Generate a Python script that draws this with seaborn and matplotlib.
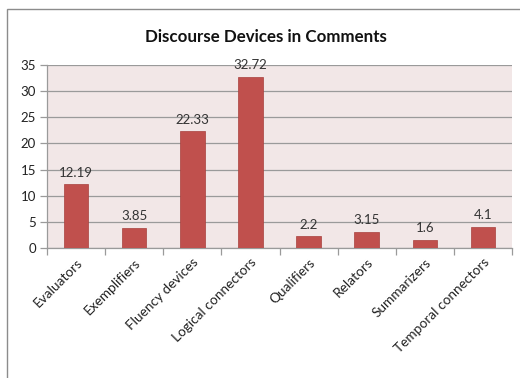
import matplotlib
matplotlib.use("Agg")
import matplotlib.pyplot as plt
import seaborn as sns
import pandas as pd
from matplotlib.patches import Rectangle

categories = ["Evaluators", "Exemplifiers", "Fluency devices", "Logical connectors",
              "Qualifiers", "Relators", "Summarizers", "Temporal connectors"]
values = [12.19, 3.85, 22.33, 32.72, 2.2, 3.15, 1.6, 4.1]
value_labels = ["12.19", "3.85", "22.33", "32.72", "2.2", "3.15", "1.6", "4.1"]
y_ticks = [0, 5, 10, 15, 20, 25, 30, 35]

sns.set_theme(style="white")
plt.rcParams["font.family"] = ["Lato", "DejaVu Sans"]

df = pd.DataFrame({"category": categories, "value": values})

fig = plt.figure(figsize=(5.2, 3.78), dpi=100)
fig.patch.set_facecolor("white")
# chart frame
fig.patches.append(Rectangle((7 / 520, -0.1), 1.2, 1 - 9 / 378 + 0.1,
                             transform=fig.transFigure, fill=False,
                             edgecolor="#8c8c8c", linewidth=1.0))

ax = fig.add_axes([47 / 520, 1 - 248 / 378, 465 / 520, 183 / 378])
ax.set_facecolor("#F2E7E7")

sns.barplot(data=df, x="category", y="value", color="#C0504D", width=0.42,
            saturation=1, ax=ax, zorder=3)
for p in ax.patches:
    p.set_edgecolor("#A8403D")
    p.set_linewidth(0.5)

ax.bar_label(ax.containers[0], labels=value_labels, padding=4,
             fontsize=9.5, color="#333333")

ax.set_ylim(0, 35)
ax.set_xlim(-0.5, len(categories) - 0.5)
ax.set_yticks(y_ticks)
ax.yaxis.grid(True, color="#9a9a9a", linewidth=0.9, zorder=0)
ax.set_axisbelow(True)

for s in ["top", "right"]:
    ax.spines[s].set_visible(False)
ax.spines["left"].set_color("#9a9a9a")
ax.spines["bottom"].set_color("#9a9a9a")
ax.spines["left"].set_linewidth(0.9)
ax.spines["bottom"].set_linewidth(0.9)

ax.set_xlabel("")
ax.set_ylabel("")
ax.tick_params(axis="y", length=5, width=0.9, color="#9a9a9a", labelsize=9.5,
               labelcolor="#222222", left=True, pad=3)
# x ticks at category boundaries
ax.set_xticks([i + 0.5 for i in range(-1, len(categories))], minor=True)
ax.tick_params(axis="x", which="minor", length=5, width=0.9, color="#9a9a9a", bottom=True)
ax.tick_params(axis="x", which="major", length=0, labelsize=9.8, labelcolor="#222222", pad=6)
ax.set_xticks(range(len(categories)))
ax.set_xticklabels(categories, rotation=45, ha="right", rotation_mode="anchor")

fig.text(0.511, 1 - 37 / 378, "Discourse Devices in Comments", ha="center", va="center",
         fontsize=12.2, fontweight="bold", color="#111111")

fig.savefig("out.png", dpi=100, facecolor="white")
